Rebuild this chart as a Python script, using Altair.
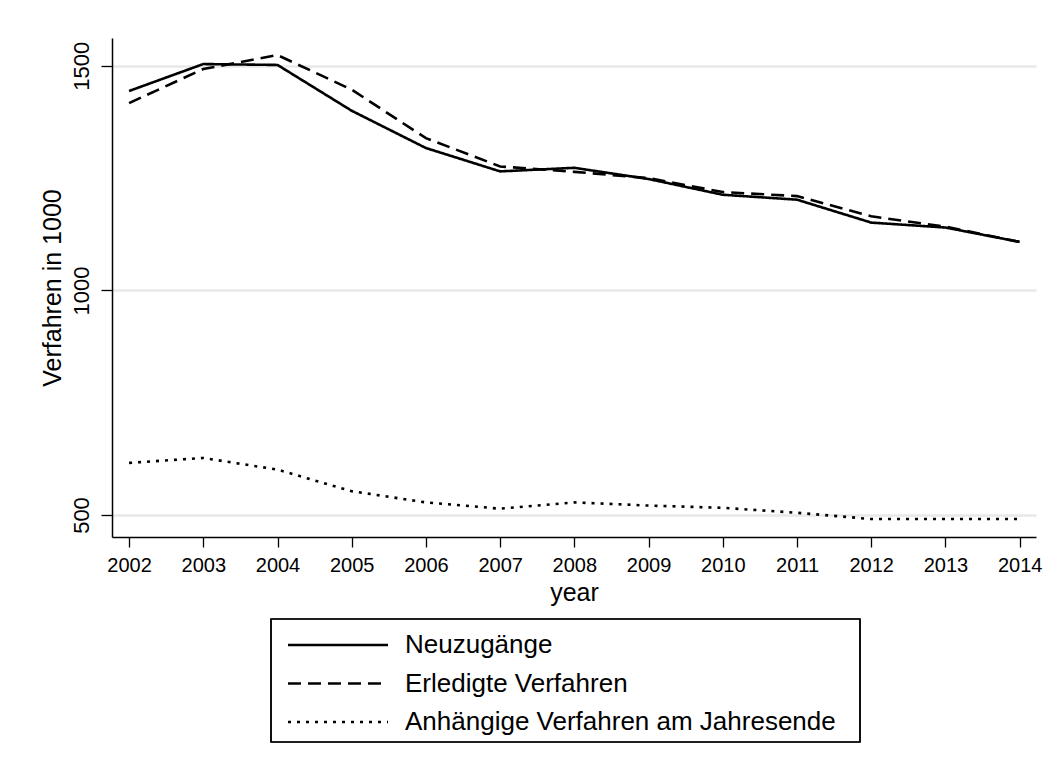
import altair as alt
import pandas as pd

years = list(range(2002, 2015))
neuzugaenge = [1444, 1504, 1502, 1400, 1317, 1265, 1273, 1248, 1213, 1202, 1151, 1140, 1108]
erledigt = [1417, 1493, 1524, 1447, 1339, 1276, 1264, 1250, 1219, 1210, 1165, 1142, 1108]
anhaengig = [616, 627, 601, 553, 528, 514, 528, 521, 516, 505, 491, 491, 491]
series_names = ["Neuzugänge", "Erledigte Verfahren", "Anhängige Verfahren am Jahresende"]
y_ticks = [500, 1000, 1500]

rows = []
for name, vals in zip(series_names, [neuzugaenge, erledigt, anhaengig]):
    for yr, v in zip(years, vals):
        rows.append({"year": yr, "value": v, "series": name})
df = pd.DataFrame(rows)
legend_df = pd.DataFrame({"series": series_names})

FONT = "Liberation Sans"
dash_scale = alt.Scale(domain=series_names, range=[[1, 0], [13, 7], [3, 6]])

lines = alt.Chart(df).mark_line(color="black", strokeWidth=2.6, strokeCap="butt").encode(
    x=alt.X("year:Q", title="year",
            scale=alt.Scale(domain=[2001.77, 2014.22], nice=False, zero=False),
            axis=alt.Axis(values=years, format="d", grid=False, labelFontSize=20,
                          titleFontSize=25, tickSize=10, labelPadding=8, titlePadding=5,
                          labelFlush=False)),
    y=alt.Y("value:Q", title="Verfahren in 1000",
            scale=alt.Scale(domain=[451, 1562], nice=False, zero=False),
            axis=alt.Axis(values=y_ticks, format="d", grid=True, labelAngle=270, labelAlign="center",
                          labelBaseline="alphabetic", labelFontSize=22, labelPadding=13,
                          titleFontSize=25, titlePadding=5, tickSize=11)),
    strokeDash=alt.StrokeDash("series:N", scale=dash_scale, legend=None),
    detail="series:N",
)

leg_y = alt.Y("series:N", sort=series_names, axis=None,
              scale=alt.Scale(type="point", domain=series_names, range=[607, 684], padding=0))

leg_rules = alt.Chart(legend_df).mark_rule(color="black", strokeWidth=2.6, strokeCap="butt").encode(
    y=leg_y,
    x=alt.value(176), x2=alt.value(276),
    strokeDash=alt.StrokeDash("series:N", scale=dash_scale, legend=None),
)
leg_text = alt.Chart(legend_df).mark_text(align="left", baseline="middle", fontSize=26,
                                          font=FONT, color="black").encode(
    y=leg_y, x=alt.value(293), text="series:N",
)
leg_box = alt.Chart(legend_df).mark_rect(filled=False, stroke="black", strokeWidth=1.2).encode(
    x=alt.value(159), x2=alt.value(748), y=alt.value(581), y2=alt.value(704),
)

chart = alt.layer(lines, leg_rules, leg_text, leg_box).resolve_scale(y="independent").properties(
    width=924, height=499,
    autosize=alt.AutoSizeParams(type="none"),
    padding={"left": 104, "top": 30, "right": 13, "bottom": 215},
    background="white",
).configure(font=FONT).configure_view(stroke=None).configure_axis(
    domainColor="black", domainWidth=1.5, tickColor="black", tickWidth=1.3,
    labelColor="black", titleColor="black", labelFont=FONT, titleFont=FONT,
    titleFontWeight="normal", gridColor="#e8e8e8", gridWidth=2.5,
)

chart.save("out.html", embed_options={"renderer": "svg", "actions": False})
